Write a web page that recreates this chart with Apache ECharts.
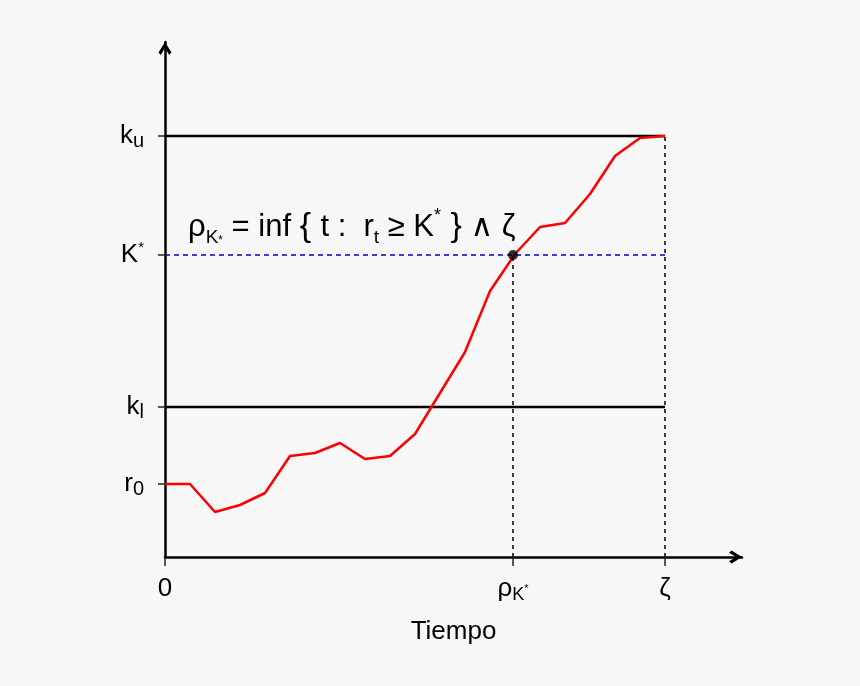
<!DOCTYPE html>
<html>
<head>
<meta charset="utf-8">
<script src="https://cdn.jsdelivr.net/npm/echarts@6/dist/echarts.min.js"></script>
<style>
html,body{margin:0;padding:0;background:#f7f7f7;}
#chart{width:860px;height:686px;}
</style>
</head>
<body>
<div id="chart"></div>
<script>
// ---- data ----
const times = [0,1,2,3,4,5,6,7,8,9,10,11,12,13,14,15,16,17,18,19,20];
const rates = [7.3,7.3,4.5,5.2,6.4,10.1,10.4,11.4,9.8,10.1,12.3,16.4,20.5,26.6,30.3,33.0,33.4,36.3,40.1,41.9,42.1];
const r0 = 7.3;
const kLow = 15.0;
const kStar = 30.2;
const kUp = 42.1;
const rho = 13.92;
const zeta = 20;
const xMax = 23.08;
const yMax = 51.5;
const xTickValues = [0, rho, zeta];
const xTickLabels = ['{m|0}', '{m|ρ}{s|K}{p|*}', '{m|ζ}'];
const yTickValues = [r0, kLow, kStar, kUp];
const yTickLabels = ['{m|r}{s|0}', '{m|k}{s|l}', '{m|K}{p|*}', '{m|k}{s|u}'];
const xName = 'Tiempo';

const FONT = '"Liberation Sans", Arial, "DejaVu Sans", sans-serif';
function lookup(vals, labels, v){
  for (let i=0;i<vals.length;i++){ if (Math.abs(vals[i]-v)<1e-6) return labels[i]; }
  return '';
}
const richY = {
  m:{fontSize:26,fontFamily:FONT,color:'#000',lineHeight:30,verticalAlign:'middle'},
  s:{fontSize:20,fontFamily:FONT,color:'#000',lineHeight:14,verticalAlign:'bottom'},
  p:{fontSize:15,fontFamily:FONT,color:'#000',lineHeight:16,verticalAlign:'top'}
};
const richX = {
  m:{fontSize:26,fontFamily:FONT,color:'#000',lineHeight:30,verticalAlign:'middle'},
  s:{fontSize:18,fontFamily:FONT,color:'#000',lineHeight:18,verticalAlign:'bottom'},
  p:{fontSize:11,fontFamily:FONT,color:'#000',lineHeight:30,verticalAlign:'middle'}
};
const arrowPath = 'path://M5,0 L10,8 L8.2,10 L5,4.4 L1.8,10 L0,8 Z';

const chart = echarts.init(document.getElementById('chart'), null, {renderer:'canvas'});
const option = {
  backgroundColor:'#f7f7f7',
  animation:false,
  grid:{left:165,right:118,top:42,bottom:129,containLabel:false,outerBoundsMode:'none'},
  xAxis:{
    type:'value', min:0, max:xMax,
    name:xName, nameLocation:'middle', nameGap:62,
    nameTextStyle:{fontSize:26,fontFamily:FONT,color:'#000'},
    splitLine:{show:false},
    axisLine:{show:true,lineStyle:{color:'#000',width:2.5},symbol:['none',arrowPath],symbolSize:[14,13],symbolOffset:[0,-6.5]},
    axisTick:{show:true,customValues:xTickValues,length:9,lineStyle:{color:'#222',width:1.5}},
    axisLabel:{show:true,customValues:xTickValues,margin:17,formatter:v=>lookup(xTickValues,xTickLabels,v),rich:richX,fontSize:26,color:'#000'}
  },
  yAxis:{
    type:'value', min:0, max:yMax,
    splitLine:{show:false},
    axisLine:{show:true,lineStyle:{color:'#000',width:2.5},symbol:['none',arrowPath],symbolSize:[14,13],symbolOffset:[0,-6.5]},
    axisTick:{show:true,customValues:yTickValues,length:7,lineStyle:{color:'#222',width:1.5}},
    axisLabel:{show:true,customValues:yTickValues,margin:21,formatter:v=>lookup(yTickValues,yTickLabels,v),rich:richY,fontSize:26,color:'#000'}
  },
  series:[
    {type:'line',data:[[0,kUp],[zeta,kUp]],symbol:'none',lineStyle:{color:'#000',width:2.5},z:2},
    {type:'line',data:[[0,kLow],[zeta,kLow]],symbol:'none',lineStyle:{color:'#000',width:2.5},z:2},
    {type:'line',data:[[0,kStar],[zeta,kStar]],symbol:'none',lineStyle:{color:'#0000cc',width:1.5,type:[5,4]},z:2},
    {type:'line',data:[[rho,0],[rho,kStar]],symbol:'none',lineStyle:{color:'#000',width:1.5,type:[4,4]},z:2},
    {type:'line',data:[[zeta,0],[zeta,kUp]],symbol:'none',lineStyle:{color:'#000',width:1.5,type:[4,4]},z:2},
    {type:'line',data:times.map((t,i)=>[t,rates[i]]),symbol:'none',lineStyle:{color:'#ff0000',width:2.5},z:3},
    {type:'scatter',data:[[rho,kStar]],symbol:'circle',symbolSize:10,itemStyle:{color:'#000'},z:4}
  ],
  graphic:[{
    type:'text', left:188, top:207, z:10,
    style:{
      text:'{m|ρ}{s|K}{ss|*}{m| = inf }{b|{ }{m|t :  r}{t|t}{m| ≥ K}{p|*}{b| }}{m| ∧ ζ}',
      font:'34px '+FONT, fill:'#000',
      rich:{
        m:{fontSize:31,fontFamily:FONT,fill:'#000',lineHeight:40,verticalAlign:'middle'},
        s:{fontSize:19,fontFamily:FONT,fill:'#000',lineHeight:25,verticalAlign:'bottom'},
        ss:{fontSize:12,fontFamily:FONT,fill:'#000',lineHeight:33,verticalAlign:'bottom'},
        t:{fontSize:19,fontFamily:FONT,fill:'#000',lineHeight:25,verticalAlign:'bottom'},
        p:{fontSize:18,fontFamily:FONT,fill:'#000',lineHeight:40,verticalAlign:'top'},
        b:{fontSize:34,fontFamily:FONT,fill:'#000',lineHeight:40,verticalAlign:'middle'}
      }
    }
  }]
};
chart.setOption(option);
</script>
</body>
</html>
